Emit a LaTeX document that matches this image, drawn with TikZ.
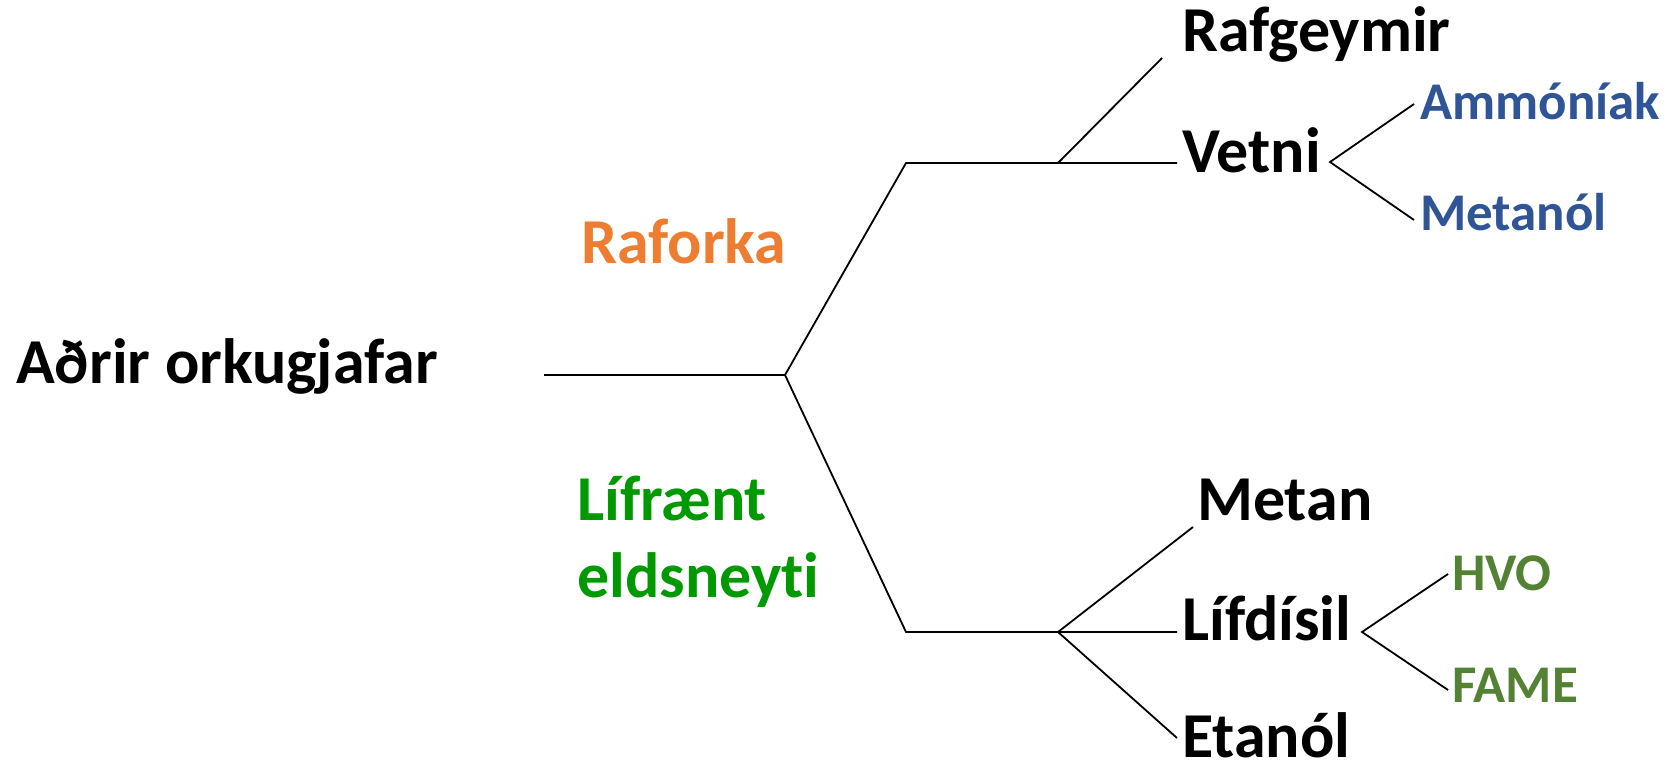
\documentclass[tikz,border=0pt]{standalone}
\usepackage{fontspec}
\setmainfont{Carlito}[Ligatures={NoCommon,NoDiscretionary}]
\definecolor{elorange}{HTML}{ED7D31}
\definecolor{fuelblue}{HTML}{2F5597}
\definecolor{biogreen}{HTML}{009900}
\definecolor{dieselgreen}{HTML}{548235}
\begin{document}
\begin{tikzpicture}[x=1pt,y=-1pt,
  big/.style={anchor=base west,inner sep=0pt,font=\fontsize{64}{76}\selectfont\bfseries},
  small/.style={anchor=base west,inner sep=0pt,font=\fontsize{53}{60}\selectfont\bfseries},
  branch/.style={line width=1.8pt,black}]
\useasboundingbox (0,0) rectangle (1680,767);
% labels
\node[big] (root) at (16,383) {Aðrir orkugjafar};
\node[big,text=elorange] (raf) at (581,263) {Raforka};
\node[big,text=biogreen] (bio1) at (577,520) {Lífrænt};
\node[big,text=biogreen] (bio2) at (577,597) {eldsneyti};
\node[big] (batt) at (1182,52) {Rafgeymir};
\node[big] (vetni) at (1182,173) {Vetni};
\node[small,text=fuelblue] (amm) at (1420,120) {Ammóníak};
\node[small,text=fuelblue] (meth) at (1420,231) {Metanól};
\node[big] (metan) at (1197,520) {Metan};
\node[big] (lifd) at (1182,640) {Lífdísil};
\node[big] (etan) at (1182,757) {Etanól};
\node[small,text=dieselgreen] (hvo) at (1452,590) {HVO};
\node[small,text=dieselgreen] (fame) at (1452,702) {FAME};
% junction points of the tree
\coordinate (r0) at (544,375);
\coordinate (j0) at (785,375);
\coordinate (j1) at (906,163);
\coordinate (j1b) at (1058,163);
\coordinate (j1e) at (1177,163);
\coordinate (rafe) at (1162,58);
\coordinate (vb) at (1330,162);
\coordinate (ame) at (1414,104);
\coordinate (mee) at (1414,220);
\coordinate (j2) at (906,632);
\coordinate (j2b) at (1058,632);
\coordinate (j2e) at (1177,632);
\coordinate (metane) at (1193,527);
\coordinate (etane) at (1177,738);
\coordinate (lb) at (1362,632);
\coordinate (hvoe) at (1448,574);
\coordinate (famee) at (1448,690);
% branches
\draw[branch] (r0) -- (j0) -- (j1) -- (j1e);
\draw[branch] (j0) -- (j2) -- (j2e);
\draw[branch] (j1b) -- (rafe);
\draw[branch] (ame) -- (vb) -- (mee);
\draw[branch] (metane) -- (j2b) -- (etane);
\draw[branch] (hvoe) -- (lb) -- (famee);
\end{tikzpicture}
\end{document}
